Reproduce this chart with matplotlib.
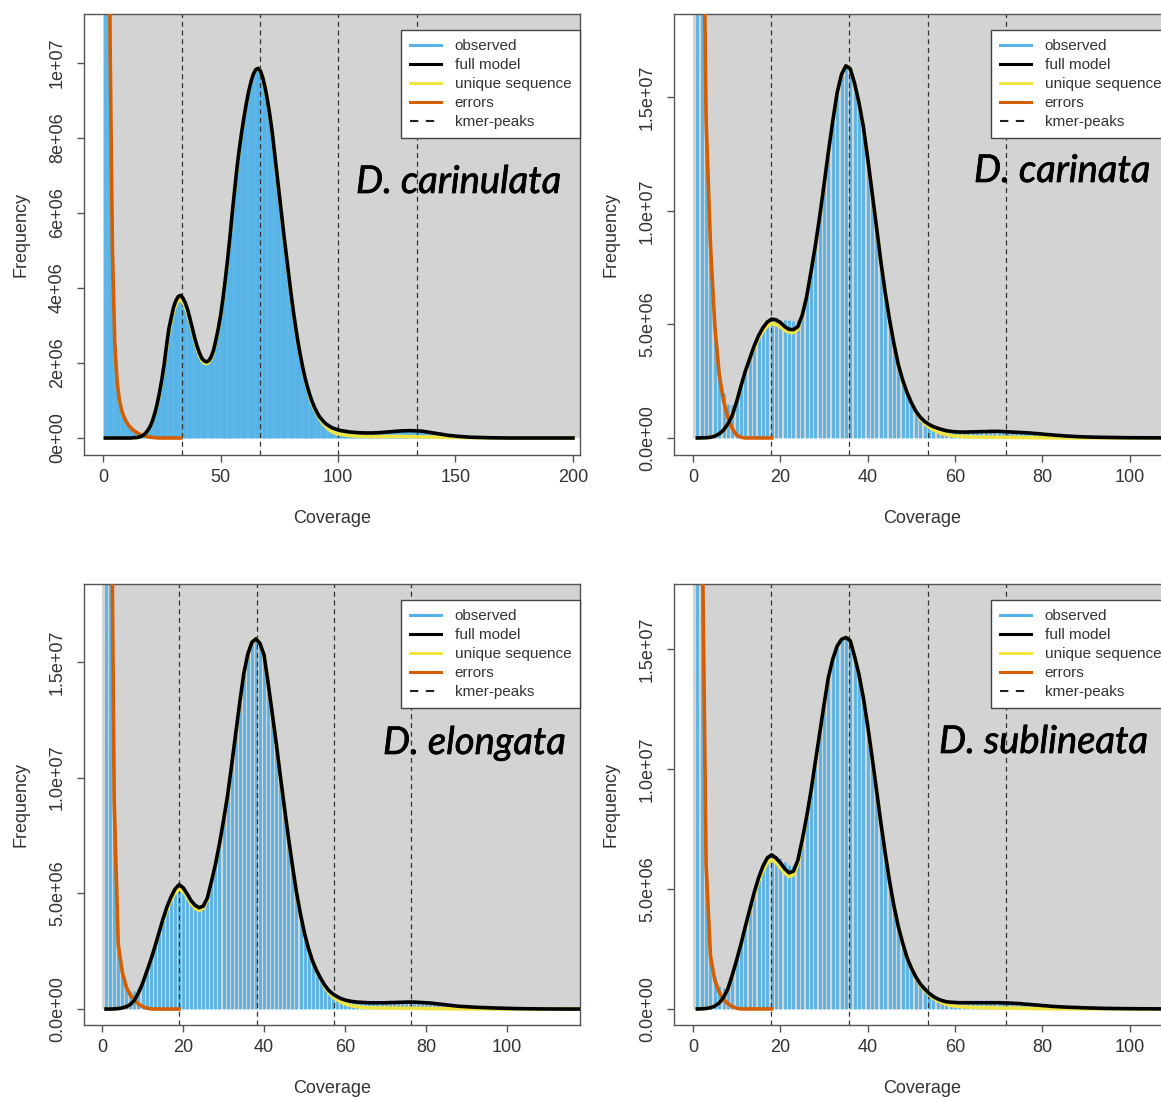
"""GenomeScope k-mer profiles for four Diorhabda species (2 x 2 panel figure)."""

import numpy as np
from matplotlib import pyplot as plt
from matplotlib import patheffects
from matplotlib.lines import Line2D
from matplotlib.patches import Rectangle

plt.rcParams["font.family"] = ["Liberation Sans", "DejaVu Sans"]

# ---------------------------------------------------------------------------
# Data (millions of k-mers, one value per coverage starting at 1)
# ---------------------------------------------------------------------------

# D. carinulata
fit_carinulata = [
    0, 0, 0, 0, 0, 0, 0, 0, 0, 0,
    0, 0, 0.01, 0.01, 0.02, 0.04, 0.07, 0.12, 0.2, 0.3,
    0.45, 0.65, 0.9, 1.2, 1.55, 1.95, 2.45, 2.9, 3.2, 3.48,
    3.66, 3.77, 3.8, 3.73, 3.6, 3.42, 3.18, 2.92, 2.67, 2.45,
    2.27, 2.13, 2.06, 2.03, 2.06, 2.16, 2.33, 2.6, 2.9, 3.25,
    3.7, 4.2, 4.75, 5.35, 6.0, 6.6, 7.2, 7.7, 8.15, 8.55,
    8.92, 9.24, 9.5, 9.7, 9.82, 9.85, 9.78, 9.6, 9.33, 9.0,
    8.6, 8.15, 7.6, 7.05, 6.5, 5.95, 5.4, 4.88, 4.35, 3.85,
    3.38, 2.95, 2.55, 2.2, 1.88, 1.6, 1.36, 1.15, 0.97, 0.82,
    0.69, 0.58, 0.5, 0.43, 0.37, 0.33, 0.29, 0.26, 0.24, 0.22,
    0.2, 0.19, 0.18, 0.17, 0.16, 0.155, 0.15, 0.145, 0.14, 0.14,
    0.135, 0.135, 0.135, 0.135, 0.135, 0.14, 0.14, 0.145, 0.15, 0.155,
    0.16, 0.165, 0.17, 0.175, 0.18, 0.185, 0.19, 0.19, 0.195, 0.195,
    0.195, 0.195, 0.19, 0.19, 0.185, 0.18, 0.17, 0.16, 0.15, 0.14,
    0.13, 0.12, 0.11, 0.1, 0.09, 0.08, 0.07, 0.065, 0.06, 0.05,
    0.045, 0.04, 0.035, 0.03, 0.025, 0.022, 0.02, 0.017, 0.015, 0.012,
    0.01, 0.009, 0.008, 0.007, 0.006, 0.005, 0.004, 0.003, 0.002, 0.002,
] + [0.0] * 30
unique_carinulata = fit_carinulata[:20] + [
    0.45, 0.64, 0.88, 1.17, 1.5, 1.9, 2.38, 2.82, 3.12, 3.38,
    3.55, 3.66, 3.69, 3.63, 3.5, 3.33, 3.1, 2.85, 2.6, 2.38,
    2.2, 2.07, 2.0, 1.98, 2.01, 2.12, 2.3, 2.57, 2.88, 3.23,
] + fit_carinulata[50:85] + [
    1.57, 1.32, 1.1, 0.92, 0.77,
    0.66, 0.54, 0.44, 0.36, 0.29, 0.23, 0.19, 0.15, 0.13, 0.11,
    0.1, 0.09, 0.08, 0.07, 0.065, 0.06, 0.055, 0.05, 0.05, 0.045,
    0.045, 0.045, 0.04, 0.04, 0.04, 0.04, 0.04, 0.04, 0.04, 0.04,
    0.04, 0.04, 0.04, 0.04, 0.04, 0.04, 0.04, 0.04, 0.04, 0.035,
    0.035, 0.035, 0.035, 0.03, 0.03, 0.03, 0.03, 0.03, 0.025, 0.025,
    0.025, 0.025, 0.02, 0.02, 0.02, 0.02, 0.02, 0.018, 0.016, 0.015,
    0.014, 0.013, 0.012, 0.011, 0.01, 0.009, 0.008, 0.007, 0.006, 0.005,
    0.004, 0.004, 0.003, 0.003, 0.002, 0.002, 0.001, 0.001, 0.001, 0,
] + [0.0] * 30
observed_carinulata = [
    80, 25, 10.5, 5.0, 2.5, 1.5, 1.0, 0.72, 0.55, 0.42,
    0.33, 0.26, 0.21, 0.17, 0.14, 0.13, 0.14, 0.17, 0.235, 0.325,
] + fit_carinulata[20:]
errors_carinulata = [
    80, 25, 10.5, 5.0, 2.5, 1.5, 1.0, 0.72, 0.55, 0.42,
    0.33, 0.26, 0.2, 0.16, 0.12, 0.09, 0.07, 0.05, 0.035, 0.025,
    0.015, 0.01, 0.005, 0, 0, 0, 0, 0, 0, 0,
    0, 0, 0,
]
peaks_carinulata = [33.4, 66.8, 100.2, 133.6]

# D. carinata
fit_carinata = [
    0, 0.005, 0.01, 0.03, 0.08, 0.18, 0.35, 0.62, 1.0, 1.6,
    2.3, 2.95, 3.5, 4.05, 4.5, 4.85, 5.1, 5.23, 5.2, 5.08,
    4.9, 4.78, 4.77, 4.9, 5.4, 6.2, 7.3, 8.45, 9.74, 11.15,
    12.6, 13.95, 15.2, 16.0, 16.38, 16.25, 15.6, 14.75, 13.7, 12.3,
    10.8, 9.3, 7.77, 6.4, 5.2, 4.15, 3.23, 2.55, 2.0, 1.55,
    1.18, 0.92, 0.73, 0.6, 0.5, 0.43, 0.37, 0.32, 0.29, 0.27,
    0.26, 0.26, 0.26, 0.27, 0.27, 0.28, 0.28, 0.29, 0.29, 0.29,
    0.28, 0.27, 0.26, 0.25, 0.24, 0.23, 0.22, 0.2, 0.19, 0.17,
    0.15, 0.14, 0.12, 0.11, 0.09, 0.08, 0.07, 0.06, 0.05, 0.045,
    0.04, 0.035, 0.03, 0.027, 0.025, 0.02, 0.018, 0.015, 0.013, 0.011,
    0.01, 0.009, 0.008, 0.007, 0.006, 0.005, 0.004, 0.003,
]
unique_carinata = fit_carinata[:13] + [
    3.95, 4.38, 4.7, 4.93, 5.03, 5.0, 4.9, 4.75, 4.65, 4.64, 4.78,
] + fit_carinata[24:51] + [
    0.85, 0.64, 0.48, 0.36, 0.27, 0.2, 0.15, 0.11, 0.08,
    0.07, 0.06, 0.05, 0.045, 0.04, 0.04, 0.035, 0.035, 0.03, 0.03,
    0.03, 0.025, 0.025, 0.02, 0.02, 0.02, 0.015, 0.015, 0.01, 0.01,
    0.01, 0.008, 0.007, 0.006, 0.005, 0.004, 0.003, 0.003, 0.002, 0.002,
] + [0.001] * 10 + [0.0] * 8
observed_carinata = [
    90, 40, 14.2, 8.6, 5.0, 3.0, 2.0, 1.5, 1.45, 1.75,
    2.35, 2.95, 3.5, 4.05, 4.5, 4.85, 5.1, 5.22, 5.22, 5.2,
    5.2, 5.18, 5.15, 5.2, 5.45,
] + fit_carinata[25:]
errors_carinata = [
    90, 30, 14, 8.5, 4.9, 2.8, 1.64, 0.88, 0.42, 0.12,
    0.03, 0, 0, 0, 0, 0, 0, 0,
]
peaks_carinata = [17.9, 35.8, 53.7, 71.6]

# D. elongata
fit_elongata = [
    0, 0, 0.005, 0.02, 0.05, 0.1, 0.2, 0.38, 0.7, 1.1,
    1.6, 2.1, 2.66, 3.26, 3.86, 4.4, 4.83, 5.18, 5.37, 5.25,
    4.98, 4.68, 4.48, 4.38, 4.45, 4.8, 5.5, 6.25, 7.15, 8.15,
    9.24, 10.55, 11.9, 13.25, 14.5, 15.35, 15.85, 16.0, 15.8, 15.3,
    14.1, 12.8, 11.5, 10.1, 8.75, 7.44, 6.2, 5.05, 4.1, 3.26,
    2.6, 2.06, 1.65, 1.32, 1.03, 0.8, 0.65, 0.54, 0.45, 0.39,
    0.35, 0.32, 0.3, 0.29, 0.28, 0.27, 0.27, 0.27, 0.27, 0.27,
    0.28, 0.28, 0.29, 0.29, 0.3, 0.3, 0.3, 0.29, 0.28, 0.27,
    0.26, 0.24, 0.22, 0.2, 0.18, 0.16, 0.14, 0.12, 0.11, 0.1,
    0.09, 0.08, 0.07, 0.065, 0.06, 0.05, 0.045, 0.04, 0.035, 0.03,
    0.025, 0.02, 0.018, 0.015, 0.012, 0.01, 0.008, 0.006, 0.005, 0.004,
    0.003, 0.002, 0.002, 0.001, 0.001, 0, 0, 0,
]
unique_elongata = fit_elongata[:14] + [
    3.8, 4.3, 4.7, 5.02, 5.18, 5.1, 4.85, 4.55, 4.35, 4.27, 4.36, 4.72,
] + fit_elongata[26:54] + [
    0.95, 0.7, 0.53, 0.4, 0.3, 0.23, 0.17, 0.13, 0.1, 0.08,
    0.065, 0.055, 0.05, 0.045, 0.04, 0.04,
    0.035, 0.035, 0.035, 0.03, 0.03, 0.03, 0.03, 0.025, 0.025, 0.02,
    0.02, 0.018, 0.016, 0.014, 0.012, 0.01, 0.009, 0.008, 0.007, 0.006,
    0.005, 0.004, 0.003, 0.003, 0.002, 0.002, 0.001, 0.001, 0.001, 0.001,
] + [0.0] * 18
observed_elongata = [
    90, 30, 9.0, 2.85, 1.65, 1.05, 0.8, 0.76, 0.92, 1.21, 1.64, 2.11,
] + fit_elongata[12:]
errors_elongata = [
    90, 30, 9.0, 2.8, 1.6, 0.95, 0.6, 0.38, 0.22, 0.11,
    0.04, 0.01, 0, 0, 0, 0, 0, 0, 0,
]
peaks_elongata = [19.1, 38.2, 57.3, 76.4]

# D. sublineata
fit_sublineata = [
    0, 0.005, 0.02, 0.05, 0.12, 0.25, 0.48, 0.85, 1.42, 2.05,
    2.72, 3.45, 4.16, 4.85, 5.46, 5.95, 6.3, 6.43, 6.3, 6.1,
    5.85, 5.68, 5.75, 6.2, 7.05, 8.0, 9.08, 10.3, 11.5, 12.7,
    13.84, 14.6, 15.14, 15.42, 15.5, 15.36, 14.7, 13.95, 12.98, 11.8,
    10.5, 9.15, 7.77, 6.5, 5.32, 4.3, 3.44, 2.75, 2.14, 1.7,
    1.34, 1.05, 0.84, 0.66, 0.52, 0.42, 0.35, 0.3, 0.28, 0.27,
    0.26, 0.26, 0.26, 0.26, 0.26, 0.26, 0.26, 0.26, 0.26, 0.26,
    0.25, 0.25, 0.24, 0.23, 0.22, 0.2, 0.19, 0.17, 0.16, 0.14,
    0.13, 0.11, 0.1, 0.09, 0.08, 0.07, 0.065, 0.06, 0.05, 0.045,
    0.04, 0.035, 0.03, 0.025, 0.022, 0.02, 0.017, 0.015, 0.012, 0.01,
    0.009, 0.008, 0.007, 0.006, 0.005, 0.004, 0.003, 0.002,
]
unique_sublineata = fit_sublineata[:10] + [
    2.7, 3.42, 4.1, 4.75, 5.32, 5.78, 6.1, 6.22, 6.12, 5.92,
    5.68, 5.52, 5.6, 6.06, 6.95, 7.95, 9.05, 10.28, 11.5, 12.7,
] + fit_sublineata[30:50] + [
    1.3, 1.0, 0.78, 0.6, 0.45, 0.34, 0.26, 0.2, 0.15, 0.12,
    0.1, 0.085, 0.075, 0.065, 0.06, 0.055, 0.05, 0.045, 0.04, 0.04,
    0.035, 0.035, 0.03, 0.03, 0.025, 0.025, 0.02, 0.02, 0.015, 0.015,
    0.012, 0.01, 0.01, 0.008, 0.007, 0.006, 0.005, 0.004, 0.003, 0.003,
] + [0.001] * 10 + [0.0] * 8
observed_sublineata = [
    90, 25, 6.05, 2.25, 1.32, 0.95, 0.88, 1.07, 1.52, 2.08,
    2.72, 3.45, 4.16, 4.85, 5.46, 5.95, 6.3, 6.43, 6.4, 6.3,
    6.15, 6.0, 5.95, 6.25,
] + fit_sublineata[24:]
errors_sublineata = [
    90, 22, 6.0, 2.2, 1.2, 0.7, 0.4, 0.22, 0.1, 0.03,
    0, 0, 0, 0, 0, 0, 0, 0,
]
peaks_sublineata = [17.9, 35.8, 53.7, 71.6]

species_names = ["D. carinulata", "D. carinata", "D. elongata", "D. sublineata"]
legend_labels = ["observed", "full model", "unique sequence", "errors", "kmer-peaks"]

xticks_carinulata = [0, 50, 100, 150, 200]
xticks_other = [0, 20, 40, 60, 80, 100]
yticks_carinulata = [0, 2, 4, 6, 8, 10]
ylabels_carinulata = ["0e+00", "2e+06", "4e+06", "6e+06", "8e+06", "1e+07"]
yticks_other = [0, 5, 10, 15]
ylabels_other = ["0.0e+00", "5.0e+06", "1.0e+07", "1.5e+07"]

# ---------------------------------------------------------------------------
# Style
# ---------------------------------------------------------------------------
BG = "#D3D3D3"
BLUE = "#56B4E9"
YELLOW = "#F0E442"
ORANGE = "#D55E00"
TEXT = "#333333"
FRAME = "#555555"

W, H = 1161, 1102


def px_axes(left, top, width=496, height=441):
    """Axes rectangle given in pixels from the top-left of the figure."""
    return [left / W, 1 - (top + height) / H, width / W, height / H]


def draw_panel(ax, observed, fit, unique, errors, peaks, xlim, ylim,
               xticks, yticks, ylabels):
    ax.set_xlim(*xlim)
    ax.set_ylim(*ylim)

    # grey plotting region starts at (0, 0), as in GenomeScope
    ax.add_patch(Rectangle((0, 0), 1e4, 1e10, facecolor=BG, edgecolor="none", zorder=0))

    cov = np.arange(1, len(observed) + 1)
    ax.vlines(cov, 0, np.array(observed) * 1e6, color=BLUE, lw=2.0, zorder=1)

    for p in peaks:
        ax.axvline(p, color="#333333", lw=0.9, ls=(0, (4, 3)), zorder=2)

    cov_err = np.arange(1, len(errors) + 1)
    ax.plot(cov_err, np.array(errors) * 1e6, color=ORANGE, lw=2.6, zorder=3)
    cov_fit = np.arange(1, len(fit) + 1)
    ax.plot(cov_fit, np.array(unique) * 1e6, color=YELLOW, lw=2.6, zorder=4)
    ax.plot(cov_fit, np.array(fit) * 1e6, color="black", lw=2.6, zorder=5)

    ax.set_xticks(xticks)
    ax.set_yticks(np.array(yticks) * 1e6, ylabels, rotation=90, va="center")
    ax.tick_params(length=5, width=1, color=FRAME, labelsize=13, labelcolor=TEXT)
    ax.tick_params(axis="x", pad=5)
    ax.tick_params(axis="y", pad=8)
    for s in ax.spines.values():
        s.set_color(FRAME)
        s.set_linewidth(1.0)

    ax.set_xlabel("Coverage", fontsize=13, color=TEXT, va="center")
    ax.xaxis.set_label_coords(0.5, -0.145)
    ax.set_ylabel("Frequency", fontsize=13, color=TEXT, va="center")
    ax.yaxis.set_label_coords(-0.128, 0.5)

    handles = [
        Line2D([], [], color=BLUE, lw=2.2),
        Line2D([], [], color="black", lw=2.2),
        Line2D([], [], color=YELLOW, lw=2.2),
        Line2D([], [], color=ORANGE, lw=2.2),
        Line2D([], [], color="#222222", lw=1.5, ls=(0, (4, 3.6))),
    ]
    leg = ax.legend(handles, legend_labels, loc="upper right",
                    bbox_to_anchor=(1.0, 1 - 16 / 441), borderaxespad=0,
                    fancybox=False, framealpha=1, edgecolor="#444444",
                    fontsize=11, handlelength=2.0, handletextpad=0.9,
                    labelspacing=0.33, borderpad=0.58)
    leg.get_frame().set_linewidth(1.0)
    for t in leg.get_texts():
        t.set_color(TEXT)
    leg.set_zorder(10)


fig = plt.figure(figsize=(W / 100, H / 100), dpi=100)
fig.patch.set_facecolor("white")

ax1 = fig.add_axes(px_axes(84, 14))
ax2 = fig.add_axes(px_axes(674, 14))
ax3 = fig.add_axes(px_axes(84, 584))
ax4 = fig.add_axes(px_axes(674, 584))

draw_panel(ax1, observed_carinulata, fit_carinulata, unique_carinulata,
           errors_carinulata, peaks_carinulata, (-8.1, 203.0), (-0.453e6, 1.130e7),
           xticks_carinulata, yticks_carinulata, ylabels_carinulata)
draw_panel(ax2, observed_carinata, fit_carinata, unique_carinata,
           errors_carinata, peaks_carinata, (-4.35, 109.2), (-0.75e6, 1.866e7),
           xticks_other, yticks_other, ylabels_other)
draw_panel(ax3, observed_elongata, fit_elongata, unique_elongata,
           errors_elongata, peaks_elongata, (-4.45, 118.0), (-0.69e6, 1.837e7),
           xticks_other, yticks_other, ylabels_other)
draw_panel(ax4, observed_sublineata, fit_sublineata, unique_sublineata,
           errors_sublineata, peaks_sublineata, (-4.35, 109.2), (-0.67e6, 1.773e7),
           xticks_other, yticks_other, ylabels_other)

# species names laid over each panel (left edge, baseline in pixels)
name_pos = [(356, 193), (974, 182), (383, 754), (939, 753)]
for name, (x, y) in zip(species_names, name_pos):
    fig.text(x / W, 1 - y / H, name, fontsize=27.5, style="italic",
             family=["Lato", "DejaVu Sans"], ha="left", va="baseline",
             color="black", zorder=20,
             path_effects=[patheffects.withStroke(linewidth=0.5, foreground="black")])

fig.savefig("out.png", dpi=100, facecolor="white")
